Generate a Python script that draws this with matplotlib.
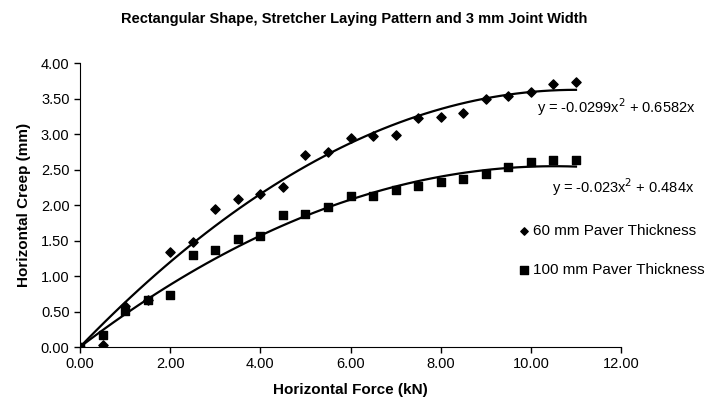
import numpy as np
import matplotlib.pyplot as plt

plt.rcParams['font.family'] = ['Liberation Sans', 'DejaVu Sans']

# Data
force = [0, 0.5, 1, 1.5, 2, 2.5, 3, 3.5, 4, 4.5, 5, 5.5, 6, 6.5, 7, 7.5, 8, 8.5, 9, 9.5, 10, 10.5, 11]
creep_60 = [0.00, 0.03, 0.58, 0.66, 1.34, 1.48, 1.95, 2.09, 2.15, 2.25, 2.71, 2.75, 2.95, 2.97, 2.99,
            3.23, 3.24, 3.30, 3.49, 3.54, 3.59, 3.71, 3.73]
creep_100 = [0.00, 0.17, 0.51, 0.66, 0.73, 1.30, 1.36, 1.52, 1.57, 1.86, 1.88, 1.97, 2.12, 2.13, 2.21,
             2.27, 2.32, 2.37, 2.43, 2.53, 2.60, 2.64, 2.64]

# trendline coefficients shown on the chart (a*x^2 + b*x)
coef_60 = (-0.0299, 0.6582)
coef_100 = (-0.023, 0.484)

fig = plt.figure(figsize=(7.09, 4.07), dpi=100)
ax = fig.add_axes([0.1128, 0.1474, 0.7632, 0.6978])

xs = np.linspace(0, 11, 60)
ax.plot(xs, coef_60[0] * xs**2 + coef_60[1] * xs, color='black', lw=1.6)
ax.plot(xs, coef_100[0] * xs**2 + coef_100[1] * xs, color='black', lw=1.6)

ax.scatter(force, creep_60, marker='D', s=22, color='black', label='60 mm Paver Thickness', zorder=3)
ax.scatter(force, creep_100, marker='s', s=40, color='black', label='100 mm Paver Thickness', zorder=3)

ax.set_xlim(0, 12)
ax.set_ylim(0, 4)
ax.set_xticks(np.arange(0, 12.1, 2))
ax.set_yticks(np.arange(0, 4.01, 0.5))
ax.xaxis.set_major_formatter(plt.FormatStrFormatter('%.2f'))
ax.yaxis.set_major_formatter(plt.FormatStrFormatter('%.2f'))
ax.tick_params(direction='out', length=4, width=1, labelsize=10.5)
ax.spines['top'].set_visible(False)
ax.spines['right'].set_visible(False)

ax.set_xlabel('Horizontal Force (kN)', fontsize=11, fontweight='bold', labelpad=8)
ax.set_ylabel('Horizontal Creep (mm)', fontsize=11, fontweight='bold', labelpad=7)
fig.text(0.5, 0.953, 'Rectangular Shape, Stretcher Laying Pattern and 3 mm Joint Width',
         ha='center', va='center', fontsize=10.5, fontweight='bold')

ax.text(10.14, 3.38, 'y = -0.0299x$^2$ + 0.6582x', fontsize=10.5, ha='left', va='center')
ax.text(10.47, 2.25, 'y = -0.023x$^2$ + 0.484x', fontsize=10.5, ha='left', va='center')

ax.legend(loc='upper left', bbox_to_anchor=(0.795, 0.455), frameon=False, fontsize=11,
          handletextpad=0.1, labelspacing=1.65, borderaxespad=0, handlelength=1, markerscale=0.8)

fig.savefig('out.png', dpi=100)
